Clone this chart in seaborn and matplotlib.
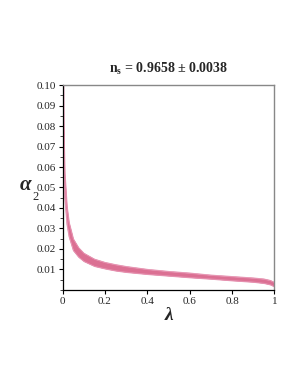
import numpy as np
import pandas as pd
import seaborn as sns
import matplotlib
matplotlib.use("Agg")
import matplotlib.pyplot as plt
from matplotlib.ticker import MultipleLocator

# band: lambda vs lower / upper alpha_2
lam = [0.003, 0.005, 0.01, 0.02, 0.03, 0.05, 0.075, 0.1, 0.15, 0.2, 0.25,
       0.3, 0.4, 0.5, 0.6, 0.7, 0.8, 0.9, 0.95, 0.98, 1.0]
alpha_lo = [0.082, 0.064, 0.045, 0.032, 0.026, 0.0193, 0.0161, 0.0140, 0.0116,
            0.0104, 0.0094, 0.0087, 0.0077, 0.0069, 0.0061, 0.0054, 0.0046,
            0.0039, 0.0033, 0.0026, 0.0016]
alpha_hi = [0.104, 0.080, 0.057, 0.041, 0.0330, 0.0250, 0.0207, 0.0180, 0.0151,
            0.0135, 0.0124, 0.0115, 0.0101, 0.0091, 0.0083, 0.0073, 0.0066,
            0.0059, 0.0054, 0.0047, 0.0037]
xticks = [0, 0.2, 0.4, 0.6, 0.8, 1]
xticklabels = ["0", "0.2", "0.4", "0.6", "0.8", "1"]
yticks = [0.01, 0.02, 0.03, 0.04, 0.05, 0.06, 0.07, 0.08, 0.09, 0.10]

df = pd.DataFrame({"lam": lam, "lo": alpha_lo, "hi": alpha_hi})

sns.set_style("ticks")
plt.rcParams["font.family"] = ["Liberation Serif", "DejaVu Serif"]
plt.rcParams["mathtext.fontset"] = "custom"
plt.rcParams["mathtext.rm"] = "Liberation Serif"
plt.rcParams["mathtext.it"] = "Liberation Serif:italic"
plt.rcParams["mathtext.bf"] = "Liberation Serif:bold"

fig = plt.figure(figsize=(2.98, 3.85), dpi=100)
ax = fig.add_axes([0.210, 0.247, 0.711, 0.532])

col = "#DB7093"
ax.fill_between(df["lam"], df["lo"], df["hi"], color=col, lw=0.6, edgecolor="#e58fae")
sns.lineplot(data=df, x="lam", y="lo", ax=ax, color="#e58fae", lw=0.5)
sns.lineplot(data=df, x="lam", y="hi", ax=ax, color="#e58fae", lw=0.5)

ax.set_xlim(0, 1)
ax.set_ylim(0, 0.10)
ax.set_xticks(xticks)
ax.set_xticklabels(xticklabels)
ax.set_yticks(yticks)
ax.set_yticklabels(["%.2f" % v for v in yticks])
ax.yaxis.set_minor_locator(MultipleLocator(0.005))
ax.tick_params(axis="both", labelsize=8, length=3, width=0.8, pad=2, color="black")
ax.tick_params(axis="y", which="minor", length=2, width=0.6)

for s in ["top", "right"]:
    ax.spines[s].set_visible(True)
    ax.spines[s].set_color("#888888")
    ax.spines[s].set_linewidth(1.0)
for s in ["left", "bottom"]:
    ax.spines[s].set_color("black")
    ax.spines[s].set_linewidth(0.9)

ax.set_xlabel("λ", fontsize=14, fontweight="bold", fontstyle="italic", labelpad=1)
ax.set_ylabel("")
fig.text(25 / 298, 1 - 185 / 385, "α", fontsize=15, fontweight="bold", fontstyle="italic",
         ha="center", va="center")
fig.text(32.5 / 298, 1 - 197 / 385, "2", fontsize=9, ha="left", va="center")
ax.set_title(r"$\mathbf{n_s}$ = 0.9658 ± 0.0038", fontsize=10, fontweight="bold", pad=9)

fig.savefig("out.png", dpi=100)
